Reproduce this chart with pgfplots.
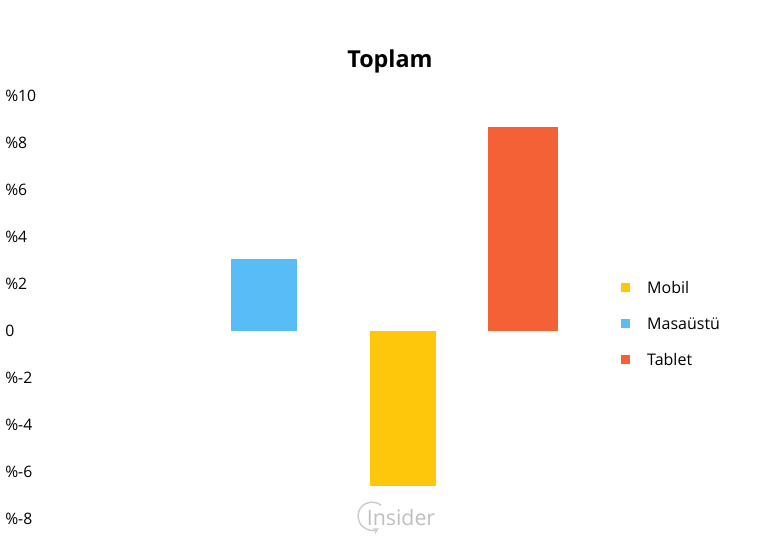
\documentclass[border=0pt]{standalone}
\usepackage{pgfplots}
\pgfplotsset{compat=1.18}
\usepackage{fontspec}
\setmainfont{Open Sans}
\definecolor{cMobil}{HTML}{FEC70C}
\definecolor{cMasa}{HTML}{58BCF6}
\definecolor{cTablet}{HTML}{F36137}
\begin{document}
\begin{tikzpicture}
\useasboundingbox (0,0) rectangle (588pt,405pt);
\begin{axis}[
    at={(0,0)}, anchor=south west,
    scale only axis, width=588pt, height=405pt,
    xmin=0, xmax=784,
    ymin=-8.915, ymax=14.064,
    axis line style={draw=none},
    tick style={draw=none},
    xtick=\empty,
    ytick={-8,-6,-4,-2,0,2,4,6,8,10},
    yticklabels={\%-8,\%-6,\%-4,\%-2,0,\%2,\%4,\%6,\%8,\%10},
    /pgf/number format/assume math mode=true,
    yticklabel style={anchor=west, inner sep=0pt, xshift=3.75pt, font=\fontsize{11.8}{13}\selectfont},
    ybar, bar shift=0pt, bar width=66,
    title={\textbf{Toplam}},
    title style={at={(0.4974,0.878)}, anchor=base, inner sep=0pt, yshift=-7.5pt, font=\fontsize{17.5}{20}\selectfont},
    legend style={draw=none, fill=none, at={(0.792,0.480)}, anchor=north west, inner sep=0pt,
        font=\fontsize{12}{13}\selectfont,
        nodes={inner ysep=0pt, text height=9pt, text depth=2.5pt},
        row sep=15.5pt, cells={anchor=west}},
    legend image code/.code={\fill[#1] (0pt,-2.5pt) rectangle (6.5pt,4pt);},
    /tikz/every odd column/.append style={column sep=11pt},
]
\addplot[fill=cMobil, draw=none] coordinates {(403,-6.6)};
\addplot[fill=cMasa, draw=none] coordinates {(264,3.06)};
\addplot[fill=cTablet, draw=none, bar width=70] coordinates {(523,8.64)};
\legend{Mobil,Masaüstü,Tablet}
\node[text=black!25, font=\fontsize{16}{18}\selectfont, anchor=base] at (axis cs:401,-8.3) {Insider};
\draw[black!20, line width=1.1pt, -stealth] (axis cs:381,-7.44) arc[start angle=50, end angle=300, radius=10.5pt];
\end{axis}
\end{tikzpicture}
\end{document}
